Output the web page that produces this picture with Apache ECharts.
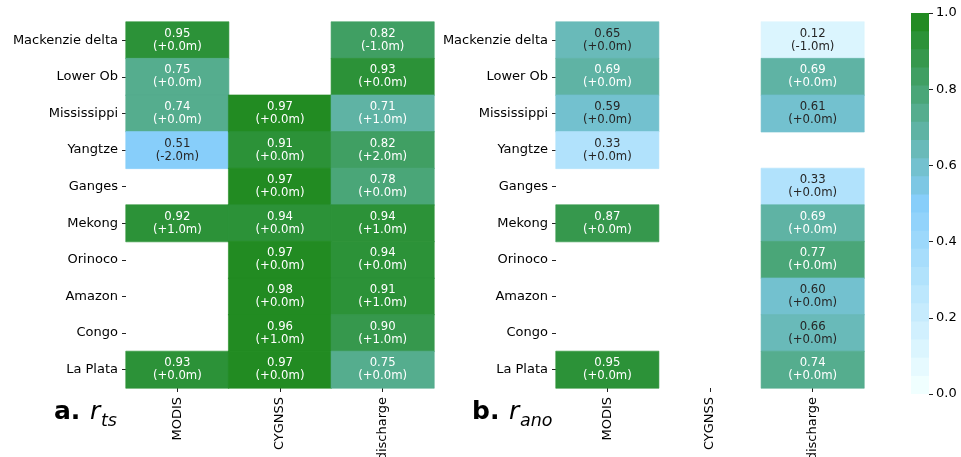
<!DOCTYPE html>
<html>
<head>
<meta charset="utf-8">
<script src="https://cdn.jsdelivr.net/npm/echarts@6/dist/echarts.min.js"></script>
<style>
  html, body { margin: 0; padding: 0; background: #ffffff; }
  #chart { width: 961px; height: 457px; }
</style>
</head>
<body>
<div id="chart"></div>
<script>
// Rivers (rows) and data products (columns)
const rivers = ['Mackenzie delta', 'Lower Ob', 'Mississippi', 'Yangtze', 'Ganges',
                'Mekong', 'Orinoco', 'Amazon', 'Congo', 'La Plata'];
const products = ['MODIS', 'CYGNSS', 'discharge'];

// Time-series correlation r_ts and best lag shift (m)
const rtsModis      = [0.95, 0.75, 0.74, 0.51, null, 0.92, null, null, null, 0.93];
const rtsModisShift = [0.0, 0.0, 0.0, -2.0, null, 1.0, null, null, null, 0.0];
const rtsCygnss      = [null, null, 0.97, 0.91, 0.97, 0.94, 0.97, 0.98, 0.96, 0.97];
const rtsCygnssShift = [null, null, 0.0, 0.0, 0.0, 0.0, 0.0, 0.0, 1.0, 0.0];
const rtsDischarge      = [0.82, 0.93, 0.71, 0.82, 0.78, 0.94, 0.94, 0.91, 0.90, 0.75];
const rtsDischargeShift = [-1.0, 0.0, 1.0, 2.0, 0.0, 1.0, 0.0, 1.0, 1.0, 0.0];

// Anomaly correlation r_ano and best lag shift (m)
const ranoModis      = [0.65, 0.69, 0.59, 0.33, null, 0.87, null, null, null, 0.95];
const ranoModisShift = [0.0, 0.0, 0.0, 0.0, null, 0.0, null, null, null, 0.0];
const ranoCygnss      = [null, null, null, null, null, null, null, null, null, null];
const ranoCygnssShift = [null, null, null, null, null, null, null, null, null, null];
const ranoDischarge      = [0.12, 0.69, 0.61, null, 0.33, 0.69, 0.77, 0.60, 0.66, 0.74];
const ranoDischargeShift = [-1.0, 0.0, 0.0, null, 0.0, 0.0, 0.0, 0.0, 0.0, 0.0];

// Colour bar ticks
const colorbarTicks = [0.0, 0.2, 0.4, 0.6, 0.8, 1.0];

// Discrete colormap: azure -> lightskyblue -> forestgreen, 21 levels
const cmapStops = [[240, 255, 255], [135, 206, 250], [34, 139, 34]];
const nLevels = 21;
const FONT = 'DejaVu Sans';

function levelRGB(i) {
  const t = i / (nLevels - 1);
  const seg = t <= 0.5 ? 0 : 1;
  const s = seg === 0 ? t / 0.5 : (t - 0.5) / 0.5;
  const a = cmapStops[seg], b = cmapStops[seg + 1];
  return a.map((c, k) => c + (b[k] - c) * s);
}
function rgbStr(c) {
  return 'rgb(' + c.map(v => Math.round(v)).join(',') + ')';
}
function valueRGB(v) {
  const i = Math.max(0, Math.min(nLevels - 1, Math.floor(v * nLevels)));
  return levelRGB(i);
}
// dark text on light cells, white on dark ones (relative luminance)
function textColor(rgb) {
  const lin = rgb.map(c => {
    const x = c / 255;
    return x <= 0.03928 ? x / 12.92 : Math.pow((x + 0.055) / 1.055, 2.4);
  });
  const lum = 0.2126 * lin[0] + 0.7152 * lin[1] + 0.0722 * lin[2];
  return lum > 0.408 ? '#262626' : '#ffffff';
}
function fmtShift(s) {
  return (s < 0 ? '-' : '+') + Math.abs(s).toFixed(1) + 'm';
}

function buildCells(columns) {
  const out = [];
  columns.forEach(([vals, shifts], x) => {
    vals.forEach((v, y) => {
      if (v === null) return;
      const rgb = valueRGB(v);
      out.push({
        value: [x, y, v, shifts[y]],
        itemStyle: { color: rgbStr(rgb), borderColor: rgbStr(rgb), borderWidth: 0.6 },
        label: { color: textColor(rgb) }
      });
    });
  });
  return out;
}

const cellsTs = buildCells([[rtsModis, rtsModisShift], [rtsCygnss, rtsCygnssShift], [rtsDischarge, rtsDischargeShift]]);
const cellsAno = buildCells([[ranoModis, ranoModisShift], [ranoCygnss, ranoCygnssShift], [ranoDischarge, ranoDischargeShift]]);

const tickStyle = { show: true, length: 4, alignWithLabel: true, lineStyle: { color: '#222', width: 1 } };
const labelStyle = { color: '#000', fontFamily: FONT, fontSize: 13 };

function xAxisFor(grid) {
  return {
    type: 'category', gridIndex: grid, data: products, position: 'bottom',
    axisLine: { show: false }, axisTick: tickStyle,
    axisLabel: Object.assign({ rotate: 90, margin: 9, interval: 0 }, labelStyle),
    splitLine: { show: false }
  };
}
function yAxisFor(grid) {
  return {
    type: 'category', gridIndex: grid, data: rivers, inverse: true,
    axisLine: { show: false }, axisTick: tickStyle,
    axisLabel: Object.assign({ margin: 8, interval: 0 }, labelStyle),
    splitLine: { show: false }
  };
}

function heatSeries(grid, data) {
  return {
    type: 'heatmap', xAxisIndex: grid, yAxisIndex: grid, data: data,
    label: {
      show: true, fontFamily: FONT, fontSize: 11.7, lineHeight: 13,
      formatter: p => p.value[2].toFixed(2) + '\n(' + fmtShift(p.value[3]) + ')'
    },
    emphasis: { disabled: true }
  };
}

// colour bar: overlapping bars from 0 up to each level's upper edge,
// highest level drawn first so the lower ones sit on top
const cbSeries = [];
for (let i = nLevels - 1; i >= 0; i--) {
  cbSeries.push({
    type: 'bar', xAxisIndex: 2, yAxisIndex: 2, barWidth: '100%', barGap: '-100%',
    data: [(i + 1) / nLevels], itemStyle: { color: rgbStr(levelRGB(i)) },
    silent: true
  });
}

const titleY = 415;
const gridBase = { outerBoundsMode: 'none', containLabel: false };
const option = {
  animation: false,
  backgroundColor: '#ffffff',
  grid: [
    Object.assign({ left: 126, top: 22, width: 308, height: 366 }, gridBase),
    Object.assign({ left: 556, top: 22, width: 308, height: 366 }, gridBase),
    Object.assign({ left: 911, top: 13, width: 18, height: 381 }, gridBase)
  ],
  xAxis: [
    xAxisFor(0), xAxisFor(1),
    { type: 'category', gridIndex: 2, data: [''], show: false }
  ],
  yAxis: [
    yAxisFor(0), yAxisFor(1),
    {
      type: 'value', gridIndex: 2, min: 0, max: 1, interval: 0.2, position: 'right',
      axisLine: { show: false },
      axisTick: { show: true, length: 4, lineStyle: { color: '#222' } },
      splitLine: { show: false },
      axisLabel: Object.assign({ margin: 7, formatter: v => {
        const t = colorbarTicks.find(c => Math.abs(c - v) < 1e-6);
        return (t === undefined ? v : t).toFixed(1);
      } }, labelStyle)
    }
  ],
  series: [heatSeries(0, cellsTs), heatSeries(1, cellsAno)].concat(cbSeries),
  graphic: [
    { type: 'text', left: 54, top: titleY - 15, style: { text: 'a.', font: 'bold 25px "DejaVu Sans"', fill: '#000' } },
    { type: 'text', left: 90, top: titleY - 15, style: { text: 'r', font: 'italic 25px "DejaVu Sans"', fill: '#000' } },
    { type: 'text', left: 101, top: titleY - 3, style: { text: 'ts', font: 'italic 17.5px "DejaVu Sans"', fill: '#000' } },
    { type: 'text', left: 472, top: titleY - 15, style: { text: 'b.', font: 'bold 25px "DejaVu Sans"', fill: '#000' } },
    { type: 'text', left: 509, top: titleY - 15, style: { text: 'r', font: 'italic 25px "DejaVu Sans"', fill: '#000' } },
    { type: 'text', left: 520, top: titleY - 3, style: { text: 'ano', font: 'italic 17.5px "DejaVu Sans"', fill: '#000' } }
  ]
};

const chart = echarts.init(document.getElementById('chart'), null, { renderer: 'canvas' });
chart.setOption(option);
</script>
</body>
</html>
